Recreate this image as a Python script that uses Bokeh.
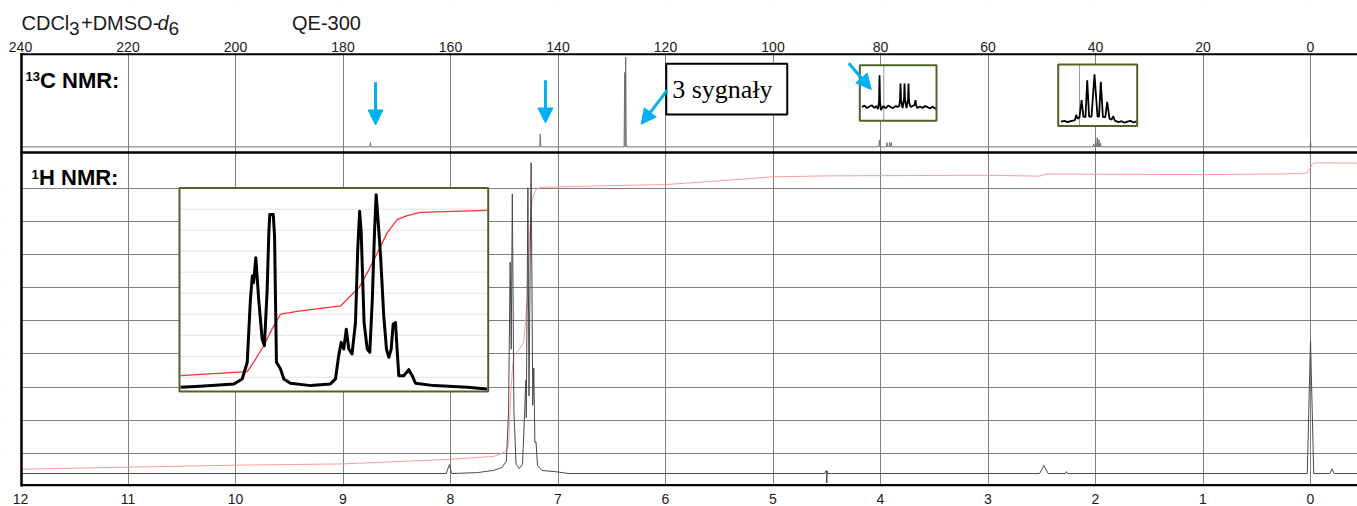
from bokeh.plotting import figure
from bokeh.models import Range1d, FixedTicker, Label, Arrow, NormalHead
from bokeh.core.properties import value
from bokeh.embed import file_html
from bokeh.resources import INLINE

# ---------------- data ----------------
h1_ticks = [12, 11, 10, 9, 8, 7, 6, 5, 4, 3, 2, 1, 0]
c13_ticks = [240, 220, 200, 180, 160, 140, 120, 100, 80, 60, 40, 20, 0]

# 13C stick spectrum (ppm, relative intensity)
c13_peak_ppm = [174.9, 143.3, 127.6, 127.4, 80.2, 78.8, 78.3, 78.0, 40.37, 40.0, 39.68, 39.35, 39.07, 0.0]
c13_peak_int = [4.8, 14.4, 83, 100, 7.8, 4.8, 4.8, 4.8, 3, 7, 10.3, 8, 4, 5.9]

# 1H spectrum (ppm, relative intensity)
h1_ppm = [12.0, 8.04, 8.01, 7.99, 7.75, 7.6, 7.52, 7.48, 7.46, 7.445, 7.435, 7.425, 7.41, 7.39,
          7.36, 7.33, 7.31, 7.30, 7.295, 7.28, 7.27, 7.25, 7.235, 7.225, 7.215, 7.205, 7.19,
          7.15, 7.0, 6.9, 4.52, 4.505, 4.5, 4.495, 4.49, 2.52, 2.48, 2.44, 2.28, 2.27, 2.26,
          0.03, 0.0, -0.03, -0.18, -0.2, -0.22, -0.45]
h1_int = [0, 0, 2.9, 0, 0.3, 1, 2, 4, 20, 68, 40, 90, 20, 3,
          1.6, 3, 20, 30, 18, 92, 25, 100, 22, 34, 10, 10.3, 2.5,
          1, 0.5, 0, 0, 1, -3, 0.8, 0, 0, 2.6, 0, 0, 0.6, 0,
          0, 43, 0, 0, 1.5, 0, 0]

# 1H integral curve
h1_integral_ppm = [12.0, 10.0, 9.0, 8.0, 7.6, 7.52, 7.48, 7.46, 7.44, 7.426, 7.411, 7.36, 7.318,
                   7.286, 7.262, 7.24, 7.209, 7.163, 6.6, 6.0, 5.5, 5.0, 4.5, 3.0, 2.52, 2.46,
                   1.0, 0.1, 0.03, -0.02, -0.05, -0.45]
h1_integral_val = [1.4, 2.7, 3.1, 4.6, 5.5, 6.5, 7.5, 9, 25, 33, 38, 40, 42.3,
                   56, 78.5, 88.1, 91.3, 92.1, 92.6, 93, 94.2, 95.5, 95.8, 96, 95.7, 96.4,
                   96.2, 96.5, 96.8, 99.7, 100, 99.9]

# 1H expansion (aromatic region)
h1_zoom_ppm = [7.558, 7.527, 7.474, 7.461, 7.453, 7.448, 7.445, 7.443, 7.4395, 7.435, 7.4295,
               7.426, 7.4216, 7.419, 7.4175, 7.412, 7.410, 7.407, 7.4006, 7.3954, 7.385,
               7.353, 7.322, 7.314, 7.309, 7.305, 7.301, 7.297, 7.293, 7.288, 7.2825, 7.279,
               7.276, 7.2735, 7.269, 7.264, 7.260, 7.256, 7.2526, 7.250, 7.2474, 7.243,
               7.238, 7.2337, 7.230, 7.2263, 7.2232, 7.2195, 7.217, 7.2143, 7.2066, 7.1986,
               7.1932, 7.188, 7.159, 7.106, 7.0755]
h1_zoom_int = [-0.3, 0.7, 3, 8, 24.7, 88, 111.3, 104.7, 129.7, 88, 48,
               41.3, 98, 154.7, 173, 173, 151.3, 24.7, 18, 8, 3.7,
               1.3, 3, 8, 31.3, 44.7, 38, 58, 38, 33, 64.7, 138,
               176.3, 154.7, 64.7, 38, 34.7, 88, 154.7, 193, 171.3, 131.3,
               71.3, 38, 29.7, 38, 63, 64.7, 38, 11.3, 11.3, 17.3,
               11.3, 3.7, 1.3, -0.3, -2]
h1_zoom_integral_ppm = [7.558, 7.453, 7.443, 7.427, 7.414, 7.4006, 7.369, 7.306, 7.293, 7.277,
                        7.264, 7.248, 7.2326, 7.217, 7.201, 7.180, 7.0755]
h1_zoom_integral_val = [11.3, 15.3, 24.7, 41.3, 58, 73, 76.3, 81.3, 89.7, 99.7,
                        114.7, 134.7, 154.7, 168, 172, 175.3, 177.3]

# 13C expansion near 80 ppm
c13_zoom1_ppm = [81.75, 81.55, 81.35, 81.15, 80.95, 80.75, 80.6, 80.45, 80.38, 80.34, 80.30, 80.22,
                 80.05, 79.85, 79.65, 79.45, 79.25, 79.05, 78.9, 78.76, 78.7, 78.66, 78.62, 78.5,
                 78.38, 78.34, 78.3, 78.18, 78.06, 78.02, 77.98, 77.85, 77.7, 77.55, 77.5, 77.46,
                 77.42, 77.3, 77.1, 76.9, 76.7, 76.5, 76.3, 76.1, 75.95, 75.8]
c13_zoom1_int = [0, 1.5, -1, 0.5, 1.8, -0.8, 1, -2, 6, 32, 5, -3,
                 1, -1.2, 1.5, 0, -1, 1.2, 0, 1, 8, 23.7, 7, -1,
                 8, 23.7, 7, -1, 8, 23.7, 5, 0, 1, 2, 4, 7,
                 2, -1, 0.5, -1, 1, 0, -1.5, 0.5, -1, -2]

# 13C expansion of the DMSO-d6 septet
c13_zoom2_ppm = [40.62, 40.5, 40.4, 40.3, 40.2, 40.15, 40.11, 40.06, 40.0, 39.93, 39.87, 39.8,
                 39.743, 39.68, 39.6, 39.5, 39.4, 39.35, 39.29, 39.22, 39.14, 39.077, 39.0,
                 38.93, 38.877, 38.82, 38.7, 38.6, 38.5, 38.4, 38.3, 38.2, 38.1]
c13_zoom2_int = [0, 0.8, -0.5, 0.5, 1, 2, 6.7, 3, 4.5, 21.7, 5, 4.5,
                 41.7, 5, 5, 47.7, 5, 5, 40, 4.5, 4.5, 20, 3,
                 2, 5.7, 1, -0.5, 0.5, -1, 0, 0.8, -0.8, 0.3]

# ---------------- layout (reference pixel coordinates) ----------------
W, H = 1357, 506
FX0, FX1, FY0, FY1 = 0, 1357, 0, 488      # plotting frame (covers header strip too)
PL, PT = 20, 53                            # left / top edge of the spectrum box
X12, X0 = 20, 1310                         # pixel positions of 12 / 0 ppm (240 / 0 ppm)
BLUE = "#00B0F0"
OLIVE = "#4F6228"
GRID = "#808080"
BASE_SHIFT = 0.37                          # baseline correction (fraction of font size)

def span_range(a, b, pa, pb, lo, hi):
    s = (b - a) / (pb - pa)
    return Range1d(a - (pa - lo) * s, b + (hi - pb) * s)

p = figure(width=W, height=H, output_backend="svg", toolbar_location=None,
           x_range=span_range(12, 0, X12, X0, FX0, FX1), y_range=Range1d(FY1, FY0),
           y_axis_location=None,
           min_border_left=0, min_border_right=0, min_border_top=0, min_border_bottom=H - FY1,
           outline_line_color=None, background_fill_color="white", border_fill_color="white")

p.extra_x_ranges["px"] = Range1d(FX0, FX1)
p.extra_x_ranges["c13"] = span_range(240, 0, X12, X0, FX0, FX1)
p.extra_y_ranges["c13y"] = span_range(0, 100, 147, 57, FY1, FY0)
p.extra_y_ranges["h1y"] = span_range(0, 100, 475, 163, FY1, FY0)

# grid
p.xgrid.ticker = FixedTicker(ticks=h1_ticks[1:])
p.xgrid.grid_line_color = GRID
p.xgrid.grid_line_width = 1
p.ygrid.ticker = FixedTicker(ticks=[155 + 33.3 * k for k in range(1, 10)])
p.ygrid.grid_line_color = GRID
p.ygrid.grid_line_width = 1

# bottom (1H) axis
ax = p.xaxis[0]
ax.ticker = FixedTicker(ticks=h1_ticks)
ax.axis_line_color = None
ax.major_tick_line_color = None
ax.minor_tick_line_color = None
ax.major_label_text_font = "Liberation Sans"
ax.major_label_text_font_size = "14px"
ax.major_label_text_color = "#1a1a1a"
ax.major_label_standoff = 1

# white margins above / left of the spectrum box (hide grid there)
p.quad(left=[FX0 - 10, FX0 - 10], right=[FX1 + 10, PL], bottom=[PT, FY1 + 10], top=[FY0 - 10, PT],
       x_range_name="px", fill_color="white", line_color=None)

# top (13C) scale labels
p.text(x=c13_ticks, y=[51.5 - BASE_SHIFT * 14] * len(c13_ticks), text=[str(t) for t in c13_ticks],
       x_range_name="c13", text_align="center", text_baseline="alphabetic",
       text_font=value("Liberation Sans"), text_font_size=value("14px"), text_color="#1a1a1a")

# 13C main stick spectrum
cx, cy = [240.0], [0.0]
for ppm, it in zip(c13_peak_ppm, c13_peak_int):
    cx += [ppm + 0.1, ppm, ppm - 0.1]
    cy += [0, it, 0]
cx.append(-9.0); cy.append(0)
p.line(cx, cy, x_range_name="c13", y_range_name="c13y", line_color="#707070", line_width=1)

# 1H main spectrum and integral
p.line(h1_integral_ppm, h1_integral_val, y_range_name="h1y", line_color="#ff9a9a", line_width=1)
p.line(h1_ppm, h1_int, y_range_name="h1y", line_color="#4a4a4a", line_width=1)

# box borders and separator
p.line([PL, FX1 + 5], [PT + 1, PT + 1], x_range_name="px", line_color="black", line_width=2)
p.line([PL + 1, PL + 1], [PT, FY1 + 5], x_range_name="px", line_color="black", line_width=2.5)
p.line([PL, FX1 + 5], [152.5, 152.5], x_range_name="px", line_color="black", line_width=2.5)
p.line([PL, FX1 + 5], [486.8, 486.8], x_range_name="px", line_color="black", line_width=2.5)

# ---------------- insets ----------------
def inset(name, box, win, xgrid=None, ygrid=None):
    bx0, bx1, byt, byb = box
    xa, xb, ya, yb = win
    p.extra_x_ranges[name] = span_range(xa, xb, bx0, bx1, FX0, FX1)
    p.extra_y_ranges[name] = span_range(ya, yb, byb, byt, FY1, FY0)
    p.quad(left=[xa], right=[xb], bottom=[ya], top=[yb], x_range_name=name, y_range_name=name,
           fill_color="white", line_color=None)
    if ygrid:
        for g in ygrid:
            p.line([xa, xb], [g, g], x_range_name=name, y_range_name=name,
                   line_color="#e4e4e4", line_width=1)
    if xgrid is not None:
        p.line([xgrid, xgrid], [ya, yb], x_range_name=name, y_range_name=name,
               line_color="#9a9a9a", line_width=1)

def inset_border(name, win):
    xa, xb, ya, yb = win
    p.quad(left=[xa], right=[xb], bottom=[ya], top=[yb], x_range_name=name, y_range_name=name,
           fill_color=None, line_color=OLIVE, line_width=2)

w1 = (7.5597, 7.0735, -4.7, 199.7)
inset("hz", (179, 487.7, 188.3, 392.7), w1, ygrid=[9.7 + 21.1 * k for k in range(9)])
p.line(h1_zoom_integral_ppm, h1_zoom_integral_val, x_range_name="hz", y_range_name="hz",
       line_color="#ff3030", line_width=1.3)
p.line(h1_zoom_ppm, h1_zoom_int, x_range_name="hz", y_range_name="hz",
       line_color="black", line_width=3, line_join="round")
inset_border("hz", w1)

w2 = (81.92, 75.78, -13.7, 42)
inset("cz1", (859.3, 936, 65, 120.7), w2, xgrid=80.0)
p.line(c13_zoom1_ppm, c13_zoom1_int, x_range_name="cz1", y_range_name="cz1",
       line_color="black", line_width=1.8)
inset_border("cz1", w2)

w3 = (40.71, 38.077, -4.3, 57.4)
inset("cz2", (1057.7, 1136.7, 64.3, 126), w3, xgrid=40.0)
p.line(c13_zoom2_ppm, c13_zoom2_int, x_range_name="cz2", y_range_name="cz2",
       line_color="black", line_width=1.8)
inset_border("cz2", w3)

# "3 sygnały" box
p.quad(left=[119.86], right=[97.35], bottom=[114.5], top=[63.5],
       x_range_name="c13", fill_color="white", line_color="black", line_width=2)
p.add_layout(Label(x=118.75, y=99 - BASE_SHIFT * 26, x_range_name="c13", text="3 sygnały",
                   text_font="Liberation Serif", text_font_size="26px",
                   text_color="black", text_baseline="alphabetic"))

# arrows (x in 13C ppm, y in reference pixels)
arrows = [(173.95, 82, 173.95, 125), (142.33, 80, 142.33, 123),
          (119.68, 90, 124.52, 124.3), (85.9, 63, 81.73, 89.3)]
for xs, ys, xe, ye in arrows:
    p.add_layout(Arrow(x_start=xs, y_start=ys, x_end=xe, y_end=ye, x_range_name="c13",
                       line_color=BLUE, line_width=3,
                       end=NormalHead(size=15, fill_color=BLUE, line_color=BLUE, line_width=1)))

# texts (y = intended baseline in reference pixels)
def lab(x, y, t, size, style="normal", color="#1a1a1a"):
    p.add_layout(Label(x=x, y=y - BASE_SHIFT * size, x_range_name="px", text=t,
                       text_font="Liberation Sans", text_font_size=f"{size}px",
                       text_font_style=style, text_color=color, text_baseline="alphabetic"))

lab(21, 29.5, "CDCl", 20)
lab(68.5, 35, "3", 19)
lab(80.5, 29.5, "+DMSO-", 20)
lab(157, 29.5, "d", 20, "italic")
lab(168, 35, "6", 19)
lab(291.5, 30, "QE-300", 20)

lab(25, 81, "13", 13, "bold", "black")
lab(39.5, 88, "C NMR:", 22, "bold", "black")
lab(31, 180, "1", 13, "bold", "black")
lab(38.5, 186, "H NMR:", 22, "bold", "black")

open("out.html", "w").write(file_html(p, INLINE))
